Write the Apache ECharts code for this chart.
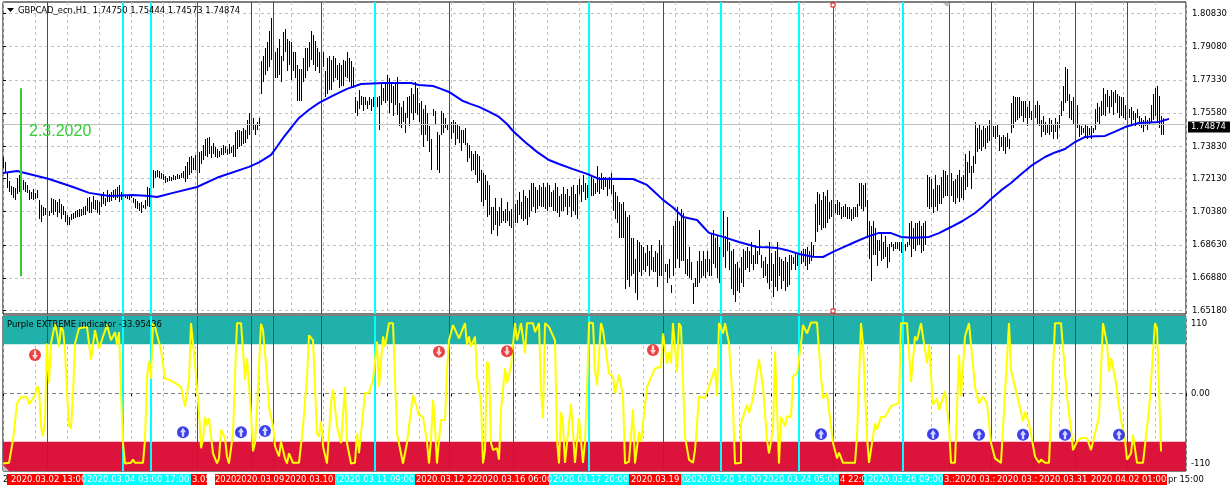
<!DOCTYPE html>
<html><head><meta charset="utf-8">
<style>html,body{margin:0;padding:0;background:#fff}#c{width:1232px;height:490px}</style>
<script src="https://cdn.jsdelivr.net/npm/echarts@6/dist/echarts.min.js"></script>
</head><body><div id="c"></div>
<script>
// GBPCAD H1 bars: high,low per bar, price x 10000
const barHighLow = [
17325,17270,17300,17240,17240,17165,17200,17140,17175,17125,
17170,17110,17165,17100,17215,17130,17230,17140,17190,17150,
17205,17150,17195,17140,17180,17135,17150,17100,17140,17105,17155,17100,17135,17105,17150,17110,
17100,17000,17075,16985,17060,17015,17055,17020,17035,17000,17040,17015,
17110,17030,17105,17020,17100,17035,17090,17010,17105,17030,17080,17000,17070,17020,
17040,16985,17020,16970,17010,16965,
17025,16995,17030,17000,17040,17005,17045,17010,17050,17010,17050,17015,17060,17020,
17070,17020,17110,17040,17115,17030,17090,17030,17120,17050,17100,17045,17100,17030,17090,17020,
17130,17060,17140,17080,17110,17070,17150,17090,17130,17090,17140,17095,17150,17110,17160,17100,17170,17110,17180,17090,
17140,17100,17130,17105,17120,17110,17125,17105,17120,17100,17130,17110,17110,17085,
17105,17055,17095,17050,17085,17040,17090,17030,17075,17055,17100,17050,17170,17070,17165,17060,
17160,17110,17258,17165,
17250,17215,17258,17220,17250,17215,17240,17210,17235,17205,17225,17190,17215,17195,17225,17200,17220,17200,17230,17205,17225,17205,17235,17210,17230,17210,17240,17215,17250,17215,
17280,17195,17300,17210,17325,17230,17330,17240,17320,17260,17335,17255,17320,17230,17350,17240,
17360,17290,17390,17310,17420,17330,17425,17325,17430,17340,17385,17320,17400,17340,
17380,17325,17370,17320,17360,17325,17375,17335,17390,17335,17385,17345,17370,17335,17395,17340,17380,17345,17390,17325,
17460,17325,17470,17370,17470,17380,17465,17385,17480,17395,17470,17400,17520,17420,
17560,17440,17550,17460,17530,17470,17495,17440,17510,17470,17530,17490,
17830,17660,17860,17720,17900,17760,17930,17780,
17990,17800,18060,17840,
17950,17790,17880,17740,17900,17740,17950,17760,17860,17720,
17985,17830,18000,17880,17950,17780,17940,17810,17930,17730,17880,17780,17880,17740,
17810,17620,17790,17620,17790,17620,
17850,17720,17900,17740,17900,17780,17930,17800,17990,17840,17970,17810,17940,17780,
17900,17800,17880,17770,17860,17740,17880,17800,
17780,17640,17850,17660,17860,17680,17840,17680,17860,17720,17850,17740,
17810,17730,17820,17690,17810,17700,17840,17700,17830,17750,
17880,17740,
17850,17720,17830,17690,17800,17690,
17640,17560,17620,17540,17680,17580,17650,17600,17640,17570,17640,17600,
17620,17580,17640,17600,17630,17570,17640,17590,17640,17580,17640,17590,
17650,17470,
17720,17600,17690,17620,17710,17610,17760,17620,17740,17560,17720,17610,17700,17540,17720,17600,17750,17550,
17610,17490,17590,17480,17620,17510,17560,17450,
17640,17530,17650,17490,17690,17560,17660,17520,17720,17560,17690,17550,
17610,17510,17620,17440,17580,17380,17600,17440,17560,17410,17490,17350,17420,17260,
17580,17540,17570,17500,17460,17260,17440,17240,
17570,17440,17560,17450,17530,17480,17500,17470,
17530,17430,17510,17420,17520,17450,17510,17390,17500,17420,17490,17400,17470,17360,17470,17400,17480,17390,
17400,17300,17390,17320,17360,17250,
17340,17260,17360,17230,17340,17190,17330,17200,17260,17090,17240,17070,17230,17100,
17200,17010,17180,17020,17060,16920,17060,16940,17110,16970,17040,16910,17060,16960,17110,16980,
17040,16990,17050,16980,17090,16990,17040,16960,17050,16950,17060,17000,17080,16980,17100,16980,17140,17020,17090,17000,17150,16990,17120,17000,17110,16970,17150,17010,
17190,17040,17190,17060,17170,17030,17150,17050,17180,17070,17170,17060,
17190,17060,17170,17050,17190,17040,17180,17060,17140,17060,17150,17040,17190,17040,17170,17030,17120,17010,17130,17040,17170,17040,17130,17060,17160,17020,17120,17060,17170,17010,
17180,17040,17130,17020,17180,17000,
17210,17130,17180,17090,17230,17140,17190,17100,17180,17110,17240,17150,17220,17120,17210,17120,17190,17130,
17280,17140,17220,17130,17240,17160,17220,17150,17220,17170,17210,17120,17220,17160,
17240,17130,17180,17040,17140,17000,17120,16980,
17090,16900,17080,16900,17090,16900,17040,16630,17010,16680,17020,16640,
16900,16700,16900,16710,
16790,16610,16890,16570,16880,16720,16860,16700,16850,16730,16820,16720,16860,16750,16830,16700,16860,16730,
16800,16720,16830,16720,16820,16640,16890,16700,16860,16700,
16930,16710,16760,16720,16760,16660,16790,16690,16650,16610,
16960,16700,16990,16740,17060,16790,16990,16740,17050,16780,17030,16780,17000,16710,
16790,16700,16850,16690,16770,16680,16660,16550,
16690,16640,16780,16640,16830,16660,16780,16690,16830,16700,16790,16690,16830,16720,16790,16700,
16920,16700,16940,16760,16900,16740,16910,16690,16850,16660,
16940,16720,17040,16800,16910,16740,17010,16830,16880,16730,
16830,16630,16840,16600,16760,16560,16770,16620,16740,16610,16800,16660,16840,16640,
16830,16730,16850,16740,16830,16720,16880,16760,16810,16730,16860,16760,16830,16760,
16940,16810,
16810,16740,16780,16690,16800,16700,16760,16660,
16880,16630,16820,16670,16760,16590,16830,16640,16880,16620,
16800,16700,16790,16630,16780,16670,16800,16620,16770,16640,16810,16650,
16810,16730,16800,16760,16820,16730,16810,16750,16820,16740,16830,16760,
16840,16770,16840,16750,16850,16730,16830,16760,
16880,16780,16860,16800,17080,16880,
17140,16930,17130,16970,17100,16940,17140,16950,17120,16950,17150,16980,
17090,17000,17100,17010,17070,17010,17080,17030,17100,17020,17090,17020,17060,17000,17070,17010,
17080,17010,17060,17000,17060,17000,17050,16990,17060,17000,17060,17010,17080,17010,
17190,17070,17190,17050,17180,17040,17190,17060,
17100,16900,
16990,16790,16960,16670,16990,16810,
16950,16810,16890,16750,16890,16830,16930,16780,16880,16790,16910,16800,16850,16740,16870,16770,
16880,16850,16870,16830,16880,16840,16880,16840,16880,16830,16880,16820,16880,16840,16870,16830,16880,16850,
16980,16860,16990,16800,16950,16840,16980,16830,16980,16860,
16990,16860,16960,16820,16980,16830,16990,16860,
17230,17060,17220,17050,17210,17060,17160,17030,17230,17060,17180,17040,17180,17080,17220,17080,
17260,17110,17250,17120,17230,17120,17240,17140,17240,17120,
17200,17090,17210,17080,17230,17110,17260,17090,17220,17110,17230,17100,
17340,17150,17300,17170,17360,17240,17280,17160,17330,17240,
17510,17290,17480,17350,17500,17370,17470,17360,17490,17380,17480,17370,
17490,17400,17520,17410,17520,17420,17490,17430,17490,17420,
17500,17430,
17440,17360,17430,17380,17440,17360,17430,17340,17450,17380,17420,17370,
17610,17450,17650,17480,17640,17510,
17640,17520,17640,17530,17620,17540,17620,17510,
17620,17530,17590,17490,17620,17530,17570,17520,17610,17510,17600,17530,17620,17500,17600,17490,
17520,17430,17540,17460,17510,17440,17500,17450,17530,17440,17520,17460,17500,17420,17530,17460,17510,17420,
17550,17480,17620,17540,17700,17570,
17800,17610,17790,17620,
17660,17530,17620,17520,17640,17500,17610,17490,17600,17480,
17500,17430,17490,17440,17480,17450,17500,17430,17490,17420,17480,17440,17490,17420,17480,17450,
17580,17470,17610,17510,17590,17500,17620,17540,
17690,17550,17660,17540,17680,17590,17650,17560,17680,17590,17670,17550,17680,17610,17660,17560,17650,17530,17640,17540,
17640,17530,17600,17520,17610,17530,
17580,17530,17590,17500,17570,17520,17560,17490,17580,17530,17540,17490,
17530,17480,17520,17460,17540,17490,17520,17470,17530,17500,
17600,17510,17660,17520,17690,17540,17700,17510,17650,17480,
17540,17440,17530,17440
];
// indicator line and moving average: bar number, value
const maBarPrice = [0,17242,7,17252,15,17231,23,17210,35,17168,43,17137,53,17121,65,17126,73,17121,77,17115,85,17137,97,17168,108,17221,123,17274,128,17298,134,17337,137,17380,140,17426,144,17480,148,17532,153,17575,158,17611,165,17650,172,17685,179,17711,190,17716,197,17716,204,17716,208,17706,215,17700,219,17685,223,17669,230,17621,234,17605,238,17590,243,17565,248,17537,252,17500,255,17463,261,17405,267,17353,273,17310,278,17289,285,17262,292,17237,298,17210,305,17212,315,17210,322,17179,325,17150,330,17100,335,17060,340,17010,347,16994,350,16960,353,16926,360,16905,368,16878,377,16852,382,16850,387,16847,392,16835,398,16815,405,16800,410,16799,415,16826,420,16850,426,16878,432,16905,438,16926,444,16925,449,16905,455,16900,463,16905,468,16925,474,16957,480,16990,486,17031,490,17065,494,17105,499,17150,504,17189,509,17235,514,17279,521,17326,526,17350,531,17368,536,17405,541,17432,546,17435,551,17437,556,17460,561,17484,568,17505,573,17508,578,17511,583,17527];
const oscBarValue = [0,-110,3,-109,5,-73,7,-16,9,-6,12,-6,13,-17,16,-4,17,11,18,5,19,-52,20,-67,21,-42,22,78,23,16,24,78,25,94,26,110,27,94,28,73,29,104,30,99,31,68,32,0,33,-50,34,-55,35,0,36,78,38,102,42,104,44,52,46,99,47,102,48,70,50,89,52,107,54,83,56,96,57,76,58,96,59,0,60,-78,61,-110,64,-109,65,-104,66,-109,70,-109,71,-73,72,26,73,50,74,23,75,110,76,104,79,68,81,23,84,20,89,10,91,-21,93,21,94,110,96,47,98,-31,99,-86,100,-73,101,-37,102,-50,103,-39,105,-94,107,-110,108,-102,109,-57,111,-70,112,-99,113,-110,115,-63,116,26,117,110,119,110,120,68,121,21,122,55,124,-31,125,-91,126,-78,127,-26,129,109,130,99,132,26,133,-21,135,-52,136,-83,138,-99,139,-76,141,-102,142,-110,143,-94,145,-109,148,-109,150,-52,152,26,153,91,155,83,157,-63,158,-68,159,-44,160,-83,162,-110,163,-109,164,-16,165,6,167,-52,169,-78,171,10,172,-78,174,-110,176,-109,177,-63,178,-94,179,-63,181,0,183,1,185,21,187,81,188,10,190,89,191,73,193,110,195,110,197,-63,200,-110,202,-78,
203,-52,205,-3,206,-3,208,-34,210,-37,212,-76,213,-110,214,-73,215,-10,216,-52,217,-110,218,-73,219,-42,221,-42,222,37,223,83,225,107,226,110,228,86,231,110,232,76,233,89,234,73,236,89,237,26,239,-16,240,-110,241,-89,242,50,243,42,244,-78,245,-89,247,-86,248,-104,249,-26,251,39,252,16,254,42,256,110,257,83,259,110,261,63,262,110,265,110,266,96,268,110,269,5,270,-39,271,110,273,104,276,83,277,-73,278,-110,279,-29,280,-47,281,-109,282,-109,284,-16,285,-15,286,-109,288,-39,289,-39,290,-109,291,-76,292,5,293,111,295,110,296,36,297,13,299,110,300,99,303,31,305,26,306,0,308,29,310,-5,311,-110,313,-107,315,-25,316,-110,318,-60,319,-76,322,10,326,39,329,42,330,94,332,47,333,65,334,47,335,110,337,34,338,110,339,104,341,-68,343,-104,345,-109,346,-89,348,-5,351,-8,356,39,357,-5,358,110,360,94,361,110,363,78,365,-21,366,-110,369,-109,369,-47,370,-50,372,-18,373,-31,375,-8,378,53,380,10,382,-73,383,-94,385,-57,386,66,388,-110,389,-37,391,-52,392,-36,394,-37,395,26,397,31,399,78,400,107,402,94,404,111,407,111,
408,109,409,26,410,-8,412,0,413,-26,415,-78,417,-102,418,-93,420,-109,426,-109,427,-68,429,110,430,78,432,-68,433,-109,434,-109,436,-47,437,-57,439,-37,441,-37,444,-20,448,-15,449,110,452,110,454,18,456,89,457,83,459,110,462,47,463,76,465,-18,467,-8,468,-26,471,3,473,-52,474,-109,476,-109,478,60,479,-5,481,89,483,110,484,110,486,10,488,-16,490,-5,492,-16,494,-78,496,-102,499,-109,503,110,504,36,508,-16,510,-44,511,-29,513,-47,514,-44,516,-99,518,-109,519,-104,521,-109,523,-109,526,110,529,110,532,-5,534,-57,535,-89,537,-76,539,-70,542,-70,544,-89,545,-76,548,-37,550,110,552,78,553,34,554,55,556,26,559,-42,561,-73,562,-104,564,-94,565,-65,567,-109,570,-109,573,-26,576,110,577,102,579,-91
];
// overlaid horizontal level, vertical objects, axis tick labels
const mainTickValues = [1.6518,1.6688,1.6863,1.7038,1.7213,1.7383,1.7558,1.7733,1.7908,1.8083];
const oscTickValues = [-110,0,110];
const bidPrice = 1.74874;
const redLineBars = [22,97,124,135,159,223,255,330,415,473,494,515,536,562];
const cyanLineBars = [60,74,186,293,359,398,450];
const dateLineBar = 9;
const dateLinePrices = [1.7688,1.6697];
const sellArrows = [[16,60],[218,65],[252,66],[325,68]];
const buyArrows = [[90,-61],[119,-61],[131,-59],[409,-64],[465,-64],[488,-65],[510,-65],[531,-65],[558,-65]];
const titleText = 'GBPCAD_ecn,H1  1.74750 1.75444 1.74573 1.74874';
const oscTitle = 'Purple EXTREME indicator -33.95436';
const timeBoxes = [
 ['#ff0000',7,83,[['2020.03.02 13:00',11]]],
 ['#00ffff',83,191,[['2020.03.04 03:00',87],['17:00',165]]],
 ['#ff0000',191,207,[['3.05',192]]],
 ['#ff0000',215,282,[['2020',215],['2020.03.09',236]]],
 ['#ff0000',282,335,[['2020.03.10 (',285]]],
 ['#00ffff',335,415,[['2020.03.11 09:00',339]]],
 ['#ff0000',415,549,[['2020.03.12 22',416],['2020.03.16 06:00',477]]],
 ['#00ffff',549,629,[['2020.03.17 20:00',553]]],
 ['#ff0000',629,681,[['2020.03.19 0',631]]],
 ['#00ffff',681,839,[['2020.03.20 14:00',686],['2020.03.24 05:00',763]]],
 ['#ff0000',839,864,[['4 22:0',840]]],
 ['#00ffff',864,943,[['2020.03.26 09:00',868]]],
 ['#ff0000',943,1167,[['3.:',944],['2020.03.:',955],['2020.03.:',997],['2020.03.31',1039],['2020.04.02 01:00',1091]]]
];

const FONT = '"DejaVu Sans Condensed","DejaVu Sans",sans-serif';
const FS = 9.4;
const bars = [];
for (let i = 0; i * 2 < barHighLow.length; i++) bars.push([i, barHighLow[2*i]/1e4, barHighLow[2*i+1]/1e4]);
const pairs = (a, k) => { const r = []; for (let i = 0; i < a.length; i += 2) r.push([a[i], a[i+1]/k]); return r; };
const vLines = (arr, color, width) => ({
  silent: true, symbol: 'none', animation: false, label: {show: false},
  lineStyle: {color, width, type: 'solid'},
  data: arr.map(v => ({xAxis: v}))
});
const DASH = {color: '#c0c0c0', type: [3, 3], width: 1};
const xBase = {type: 'value', min: 0, max: 591.5, axisLabel: {show: false}, axisLine: {show: false}};
const g = [];
const txt = (text, x, y, fill, extra) => g.push({type: 'text', z: 100, x, y, style: Object.assign({text, fill, font: FS + 'px ' + FONT, textVerticalAlign: 'middle'}, extra || {})});
const rect = (x, y, w, h, fill, stroke) => g.push({type: 'rect', z: 99, shape: {x, y, width: w, height: h}, style: {fill, stroke: stroke || null, lineWidth: 1}});
const poly = (points, fill) => g.push({type: 'polygon', z: 100, shape: {points}, style: {fill}});

txt(titleText, 18, 10.5, '#000');
poly([[7,8],[14,8],[10.5,12]], '#000');
txt('2.3.2020', 29, 132, '#32cd32', {font: '16px "Liberation Sans",sans-serif'});
txt(oscTitle, 7, 325, '#000');
timeBoxes.forEach(b => { rect(b[1], 474, b[2]-b[1], 11, b[0]); b[3].forEach(t => txt(t[0], t[1], 479.5, '#fff')); });
txt('2', 3, 479.5, '#000');
txt('pr 15:00', 1168, 479.5, '#000');
rect(1188, 121.5, 42, 11, '#000');
txt('1.74874', 1191, 127, '#fff');
rect(831, 3, 4, 4, '#fff', '#e01010');
rect(831, 309, 4, 4, '#fff', '#e01010');
poly([[943,3],[951,3],[947,7]], '#c0c0c0');
poly([[3,465],[3,471],[9,471]], '#c0c0c0');

const chart = echarts.init(document.getElementById('c'), null, {width: 1232, height: 490});
const ARROW = 'path://M5 0 L10 6 L7 6 L7 12 L3 12 L3 6 L0 6 Z';
chart.setOption({
  animation: false, backgroundColor: '#fff',
  textStyle: {fontFamily: FONT},
  grid: [
    {left: 3, top: 2, width: 1183, height: 312, show: true, borderColor: '#000', borderWidth: 1, backgroundColor: '#fff'},
    {left: 3, top: 316, width: 1183, height: 155, show: true, borderColor: '#000', borderWidth: 1, backgroundColor: '#fff'}
  ],
  xAxis: [
    Object.assign({}, xBase, {gridIndex: 0, interval: 16, axisTick: {show: false}, splitLine: {show: true, lineStyle: DASH}}),
    Object.assign({}, xBase, {gridIndex: 1, interval: 32, axisTick: {show: true, length: 3, lineStyle: {color: '#000'}},
      splitLine: {show: true, lineStyle: DASH}, minorTick: {show: false, splitNumber: 2}, minorSplitLine: {show: true, lineStyle: DASH}})
  ],
  yAxis: [
    {type: 'value', gridIndex: 0, position: 'right', min: 1.64985, max: 1.81431,
     axisLine: {show: false},
     axisTick: {show: true, length: 3, lineStyle: {color: '#000'}, customValues: mainTickValues},
     axisLabel: {show: true, margin: 6, color: '#000', fontSize: FS, fontFamily: FONT, customValues: mainTickValues, formatter: v => v.toFixed(5)},
     splitLine: {show: true, lineStyle: DASH}},
    {type: 'value', gridIndex: 1, position: 'right', min: -121.8, max: 121.2,
     axisLine: {show: false},
     axisTick: {show: true, length: 3, lineStyle: {color: '#000'}, customValues: oscTickValues},
     axisLabel: {show: true, margin: 5, color: '#000', fontSize: FS, fontFamily: FONT, customValues: oscTickValues, formatter: v => v === 0 ? '0.00' : String(v)},
     splitLine: {show: false}}
  ],
  series: [
    {type: 'line', xAxisIndex: 0, yAxisIndex: 0, data: [], silent: true,
     markLine: {silent: true, symbol: 'none', label: {show: false}, lineStyle: {color: '#c0c0c0', width: 1, type: 'solid'}, data: [{yAxis: bidPrice}]}},
    {type: 'line', xAxisIndex: 0, yAxisIndex: 0, data: [], silent: true, z: 3, markLine: vLines(redLineBars, '#e01010', 1)},
    {type: 'line', xAxisIndex: 0, yAxisIndex: 0, data: [], silent: true, z: 3, markLine: vLines(cyanLineBars, '#00ffff', 2)},
    {type: 'custom', xAxisIndex: 0, yAxisIndex: 0, data: bars, silent: true, z: 4,
     encode: {x: 0, y: [1, 2]},
     renderItem: (p, api) => {
       const a = api.coord([api.value(0), api.value(1)]), b = api.coord([api.value(0), api.value(2)]);
       const x = Math.round(a[0]) + 0.5;
       return {type: 'line', shape: {x1: x, y1: Math.round(a[1]), x2: x, y2: Math.round(b[1])}, style: {stroke: '#000', lineWidth: 1}};
     }},
    {type: 'line', xAxisIndex: 0, yAxisIndex: 0, z: 5, silent: true, showSymbol: false, symbol: 'none',
     data: pairs(maBarPrice, 1e4), lineStyle: {color: '#0000ff', width: 2}},
    {type: 'line', xAxisIndex: 0, yAxisIndex: 0, z: 5, silent: true, symbol: 'none',
     data: dateLinePrices.map(v => [dateLineBar, v]), lineStyle: {color: '#32cd32', width: 2}},
    {type: 'line', xAxisIndex: 1, yAxisIndex: 1, data: [], silent: true, z: 1,
     markArea: {silent: true, label: {show: false}, itemStyle: {opacity: 1}, data: [
       [{yAxis: 77, itemStyle: {color: '#20b2aa'}}, {yAxis: 121.2}],
       [{yAxis: -121.8, itemStyle: {color: '#dc143c'}}, {yAxis: -76}]
     ]},
     markLine: {silent: true, symbol: 'none', label: {show: false}, lineStyle: {color: '#808080', width: 1, type: [4, 3]}, data: [{yAxis: 0}]}},
    {type: 'line', xAxisIndex: 1, yAxisIndex: 1, data: [], silent: true, z: 3, markLine: vLines(redLineBars, '#e01010', 1)},
    {type: 'line', xAxisIndex: 1, yAxisIndex: 1, data: [], silent: true, z: 3, markLine: vLines(cyanLineBars, '#00ffff', 2)},
    {type: 'line', xAxisIndex: 1, yAxisIndex: 1, z: 5, silent: true, symbol: 'none',
     data: pairs(oscBarValue, 1), lineStyle: {color: '#ffff00', width: 2}},
    {type: 'scatter', xAxisIndex: 1, yAxisIndex: 1, z: 6, silent: true, symbol: 'circle', symbolSize: 12, data: sellArrows, itemStyle: {color: '#e81010'}},
    {type: 'scatter', xAxisIndex: 1, yAxisIndex: 1, z: 7, silent: true, symbol: ARROW, symbolRotate: 180, symbolSize: [6, 9], data: sellArrows, itemStyle: {color: '#fff'}},
    {type: 'scatter', xAxisIndex: 1, yAxisIndex: 1, z: 6, silent: true, symbol: 'circle', symbolSize: 12, data: buyArrows, itemStyle: {color: '#0a10e8'}},
    {type: 'scatter', xAxisIndex: 1, yAxisIndex: 1, z: 7, silent: true, symbol: ARROW, symbolSize: [6, 9], data: buyArrows, itemStyle: {color: '#fff'}}
  ],
  graphic: {elements: g}
});
</script></body></html>
